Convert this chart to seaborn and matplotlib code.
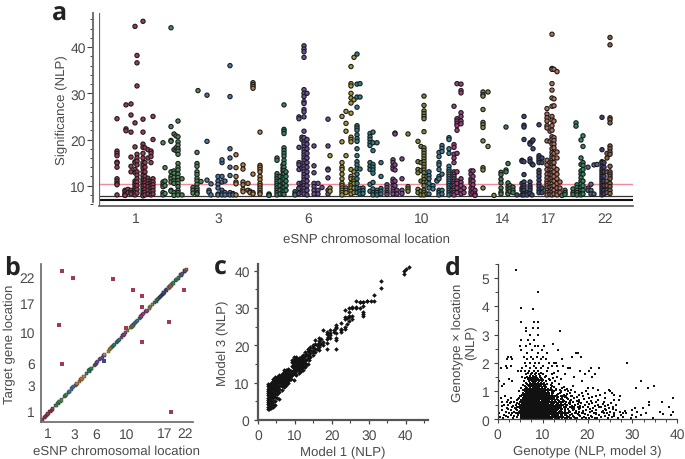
import matplotlib
matplotlib.use("Agg")
import matplotlib.pyplot as plt
import seaborn as sns
import pandas as pd
from matplotlib.ticker import MultipleLocator

sns.set_theme(style="ticks")
plt.rcParams['font.family'] = ['Liberation Sans', 'DejaVu Sans']
plt.rcParams['text.hinting'] = 'no_hinting'
TEXT = '#4a4a4a'
W, H = 685, 460

# -------------------------
# panel a: genome position -> NLP values, one block per chromosome colour
# -------------------------
chr1 = [(18, [24.5, 17.5, 17, 16.5, 15.1, 14.9, 14, 11.5, 11, 10.5, 10.2, 8]),
        (26, [9, 8.7, 8.2, 8, 7.9]),
        (27, [27.5, 22.3, 21.9]),
        (29, [9.2, 8.5]),
        (32, [27.7, 25.3, 21.6, 16.2, 14.2, 13, 9, 8.5, 8.2]),
        (36, [44.5, 23.6, 18.4, 15.2, 15, 13.5, 12.8, 11, 10.5, 10, 9.5, 9, 8.5, 8]),
        (38, [38.2, 36.6, 31.6, 16.8, 16, 15.3, 14.5, 13, 12.3, 11.5, 10.8, 10, 9.2, 8.4]),
        (44, [45.6, 24.4, 21.6, 19, 18.3, 17, 16, 15, 14.4, 13.8, 13, 12.2, 11.5, 11, 10.5, 10, 9.5, 9, 8.5, 8, 7.8]),
        (46, [18.2, 15, 14, 13, 12, 11.2, 10.6, 10, 9.2, 8.6, 8]),
        (49, [17.8, 16, 11.6, 11, 10.4, 9.8, 9, 8.2]),
        (52, [17.5, 17, 16.3, 15, 11, 10.5, 10, 9.5, 8.8, 8]),
        (54, [25, 20, 11.5, 10.8, 10.2, 9.6, 8.9, 8.2])]
chr2 = [(64, [19.3, 10.8, 10.2, 9.8, 8.5, 8]),
        (66, [13.9, 11, 10, 8.3]),
        (72, [44.2, 22.8, 19.8, 19.6, 13, 12, 11.5, 10.8, 9, 8.8]),
        (75, [21.2, 17.8, 13.2, 12.7, 11.8, 11, 10.5, 8.5, 7.9]),
        (77, [20.8, 18.2, 17.6]),
        (79, [24, 20.6, 19.5, 18.8, 18, 17.5, 16.8, 14.8, 14, 13.4, 12.5, 11.8, 11.1, 10.5, 9.8, 9, 8.5, 8]),
        (83, [11.5, 8]),
        (94, [9.6, 9, 8.4]),
        (98, [17.2, 14.8, 14.2, 13, 12.4, 11.6, 11, 10.3, 9.5, 9, 8.5, 8.2]),
        (99, [30.6]),
        (102, [10.9])]
chr3 = [(108, [29.6, 19.6, 11.2]),
        (110, [9, 8.6]),
        (112, [10.4, 8]),
        (119, [12, 11, 10.3, 9.5, 8.2, 8]),
        (123, [15, 15.6, 12, 10.8, 9, 8.4, 8]),
        (126, [11, 8.5, 8]),
        (131, [36, 29.3, 18, 16, 14, 12.2, 8.5, 8]),
        (134, [8.3, 8])]
chr4 = [(137, [16.7, 13.9, 12, 10.8, 10.4, 8]),
        (144, [14.5, 13.6, 10.8, 10.2, 9.2, 8.7]),
        (149, [10.5, 9]),
        (151, [8.8, 8.5]),
        (154, [32.3, 31.9, 31.5, 31.1, 12.5, 8.5, 8.2]),
        (161, [21.6, 14.4, 14, 13.5, 13, 12, 11.3, 10.5, 10, 9.5, 9, 8.5, 8.2])]
chr5 = [(170, [8.2, 8, 7.9]),
        (178, [16, 15.5, 12.6, 12, 11.5, 11, 10.5, 10, 9.5, 9, 8.5, 8]),
        (181, [12, 11, 10, 9, 8.2]),
        (184, [14.5, 13.8, 13.2, 12.5, 11.8, 11, 10.4, 9.7, 9, 8.3]),
        (185, [27.5, 22.2, 21.8, 21.3, 18.2, 17.6, 17, 16.4, 15.5, 14.8, 14, 13.3, 12.6, 11.5, 10.5, 9.6, 8.8, 8.1]),
        (187, [13, 12, 11, 10, 9]),
        (196, [8.7, 8.2, 8])]
chr6 = [(200, [24.9, 24.5, 18.3, 15, 14.5, 13.5, 10.5, 9.5, 9.4, 8.3]),
        (203, [20.5, 20, 13.8, 10.6, 9.7, 8.5]),
        (205, [40.3, 39.6, 39, 37.8, 30.8, 30, 29.3, 28.2, 27.8, 26.5, 26, 24.9, 21.8, 20.4, 19.5, 19, 18.4, 17.8,
               17.2, 16.6, 16, 15.4, 14.8, 14.2, 13.6, 13, 12.4, 11.8, 11.2, 10.6, 10, 9.4, 8.8, 8.2]),
        (208, [30, 20, 19, 18, 17, 16, 15, 14, 13, 12, 11, 10, 9, 8]),
        (215, [18.6, 14.3, 12.8, 10.5, 9.8, 9, 8.2]),
        (219, [10.5, 9, 8.2]),
        (223, [9.6]),
        (229, [24.4, 18.6, 13.6, 13.4, 11.7, 9, 8.2])]
chr7 = [(231, [16.5, 9.5, 8.8]),
        (243, [25, 19.5, 15, 14, 13.5, 12.5, 11.5, 10.5, 10, 9.5, 9, 8.5, 8]),
        (247, [26.1, 23.5, 21.8, 16.5, 9.5, 9, 8.5]),
        (252, [35.8, 32.1, 31.6, 30, 29, 27.9, 25.7, 20.5, 20, 19.5, 13.5, 12, 11.5, 10.5, 10, 9.5, 8.8, 8.2]),
        (255, [37.8, 28.6, 13, 11.5, 11, 10.5, 9.5, 8.5])]
chr8 = [(258, [38.5, 32, 29.2, 27, 23, 22.5, 22, 21, 20.2, 19.6, 18, 16.5, 15.2, 14.5, 13.7, 12.5, 11.5, 10.5, 9.5, 8.5]),
        (261, [32.1, 29.2, 13.6, 9.4, 8.8, 8.2]),
        (264, [9.5, 8.9, 8.3]),
        (271, [21.3, 20.6, 20, 19.3, 18.7, 15, 14.2, 13.5, 10.3, 8.8]),
        (274, [21.6, 19.3, 17.6, 14.6, 14, 13.4, 12.7, 10.7, 9.3, 8.5, 8]),
        (278, [19.3, 9, 8.5, 8]),
        (282, [15, 12, 9.4, 8.8, 8.2])]
chr9 = [(288, [10.2, 9.6, 9, 8.5, 8.1]),
        (294, [15.6, 15, 14.2, 13.6, 11.4, 10.8, 10, 9.3, 8.7, 8.2]),
        (296, [21.4, 21.2, 14.5, 13.4, 11, 10]),
        (298, [9, 8.2]),
        (303, [15.8, 11.5, 9, 8.3])]
chr10 = [(309, [21.2, 9.8, 9.3, 8.8]),
         (319, [19.6, 15.2, 13.5, 12.8, 9.2, 8.5]),
         (322, [18.5, 15, 13.3, 11, 8.8, 8]),
         (325, [29.4, 27.4, 26.2, 25.6, 25, 24.5, 21.7, 18.2, 17.6, 17, 16.4, 15.8, 15.2, 14.6, 14, 13.4, 12.8, 12,
                11.3, 10.7, 10, 9, 8.5, 8]),
         (328, [12, 10.8, 8.2])]
chr11 = [(330, [13, 12.2, 11.5, 10.5, 9.5, 8.2]),
         (334, [10, 9.3]),
         (338, [11.2, 11]),
         (340, [17.2, 16.3, 15, 14.5, 13.5, 12, 11.5, 9, 8.5, 8]),
         (343, [18.7, 18.1, 17.4, 12.5, 9, 8.2]),
         (350, [20.4, 20, 18, 17, 14.2, 13.5, 13, 12.5, 12, 11.5, 11, 10.5, 10, 9.5, 9, 8.5, 8]),
         (353, [10, 9, 8.2])]
chr12 = [(355, [27.2, 18.9, 18.3, 16.8, 16, 15, 13, 12.5, 12, 11.5, 11, 10.5, 10, 9.5, 9, 8.5, 8]),
         (358, [32.1, 24.5, 24, 23.5, 23, 22, 17, 13, 11, 10.5, 9.5, 8.5]),
         (362, [32, 30.6, 30.1, 25.8, 25, 24, 23.4, 11.5, 10.7, 10, 9, 8.2]),
         (365, [9.5, 8.5]),
         (372, [13.2, 12.5, 11.5, 11, 10.5, 9.5, 8.7, 8.2]),
         (374, [13.2, 12, 11, 10.2, 9.3, 8.5]),
         (376, [9, 8.2, 7.9])]
chr13 = [(384, [30.3, 29.7, 29.4, 26.5, 23.7, 23.2, 22.6, 19.7, 13.9, 13.4, 9.5]),
         (389, [30.3, 18.5]),
         (395, [7.9])]
chr14 = [(402, [12.9, 12.4, 11.4, 10.6, 9.5, 8.6, 8.2]),
         (407, [22.7, 13.4, 13]),
         (409, [14.8, 10.6, 9.8, 9.2, 8.5, 8.2]),
         (411, [10, 9.4, 8.8]),
         (414, [9.7, 9, 8.5])]
chr15 = [(418, [8]),
         (423, [15.5, 15.3, 10.5, 9.5, 9, 8]),
         (425, [25, 23.1, 22.7, 20, 15.2, 12.4, 10.8, 10, 9.5, 9, 8.3, 8]),
         (428, [8.5, 8]),
         (431, [19.3, 19, 15.8, 15.2, 10.8, 10, 9.5, 9, 8.3]),
         (433, [19.6, 14.7, 8]),
         (434, [19.9, 18, 14.5]),
         (440, [23.2, 16.5, 16, 15.5, 15, 13.3, 12.7, 12, 11.2, 10.4, 9.8, 9.1, 8.5]),
         (443, [16, 15, 9.5, 8.5])]
chr17 = [(448, [26.7, 25.5, 24.7, 24, 23, 22.5, 19.7, 15.5, 14.5, 13.5, 12.5, 11.7, 11, 10.5, 10, 9.5, 9, 8.5, 8]),
         (451, [21.8, 19.6, 15, 13.5, 12.5, 11.5, 10.5, 9.7, 8.8, 8.1]),
         (453, [42.8, 35.4, 35.2, 32.1, 30.7, 29, 27.2, 25, 24.2, 23, 22, 20.6, 20, 19, 18, 17.2, 16.5, 16, 15.5, 15,
                14.5, 14, 13.4, 12.8, 12.2, 11.6, 11, 10.4, 9.8, 9.2, 8.6, 8]),
         (455, [35.2, 28.8, 27.3, 24, 20.4, 19.8, 19, 18.2, 17, 16, 15, 14, 13, 12, 11, 10, 9, 8.2]),
         (458, [34.7, 17.3, 16, 13.5, 12.5, 11.5, 10.5, 9.5, 8.5, 8]),
         (461, [10.8, 9.5, 8.5])]
chr18 = [(463, [7.9]),
         (466, [9, 8.5, 8.1]),
         (474, [9.3, 8.5, 8.1]),
         (477, [23.6, 22.9]),
         (478, [10.2, 9.6, 9, 8.5, 8]),
         (482, [19.9, 16, 14.6, 13.2, 12.5, 11.7, 11, 10.4, 9.6, 9, 8.3, 8]),
         (484, [20.8, 18.5, 15, 14.4, 13.5, 12.5, 11, 10, 9, 8.2])]
chr20 = [(489, [14, 9.5, 9]),
         (492, [10.3, 9, 8.2]),
         (495, [14.5, 8.2]),
         (498, [14.6])]
chr21 = [(503, [24.8, 17.8, 15.2, 15, 14.2, 13.5, 13, 12.5, 12, 11.5, 11, 10.5, 10, 9.5, 9, 8.5, 8]),
         (505, [15, 14, 13, 12, 11, 10, 9, 8.2])]
chr22 = [(508, [17, 16, 13, 11, 10, 9, 8.5]),
         (511, [42.1, 40.5, 24.7, 24.3, 23.6, 18.6, 18, 17.3, 16.8, 14.2, 13, 12.5, 12, 11.5, 10.5, 9.8, 9, 8.3])]

chrom_blocks = {'1': chr1, '2': chr2, '3': chr3, '4': chr4, '5': chr5, '6': chr6, '7': chr7, '8': chr8,
                '9': chr9, '10': chr10, '11': chr11, '12': chr12, '13': chr13, '14': chr14, '15': chr15,
                '17': chr17, '18': chr18, '20': chr20, '21': chr21, '22': chr22}
chrom_colors = {'1': '#a03a55', '2': '#4f8a58', '3': '#4a78a8', '4': '#bd8042', '5': '#2f8a62', '6': '#6d4f9e',
                '7': '#a89a38', '8': '#2f8088', '9': '#84478f', '10': '#7d8a38', '11': '#3a80a0', '12': '#a23f82',
                '13': '#7f8a48', '14': '#3f8058', '15': '#3a4a80', '17': '#b8705a', '18': '#2f8a62',
                '20': '#5a6488', '21': '#4a3a80', '22': '#8a6040'}
a_tick_pos = [37, 119, 209, 323, 404, 450, 506]
a_tick_labels = ['1', '3', '6', '10', '14', '17', '22']
sig_line = 10.4
cut_line = 7.8
base_line = 6.9

# -------------------------
# panel b: same eSNP positions on the diagonal, plus the off diagonal pairs
# -------------------------
b_out_x = [85, 77, 85, 124, 259, 329, 360, 360, 304, 360, 450, 501, 457]
b_out_y = [506, 330, 200, 483, 480, 443, 422, 387, 317, 272, 337, 443, 45]
b_navy_x = [229]
b_navy_y = [212]
b_x_ticks = [37, 127, 203, 307, 436, 506]
b_y_ticks = [47, 132, 205, 306, 402, 487]
b_labels = ['1', '3', '6', '10', '17', '22']

# -------------------------
# panel c: model 1 NLP -> model 3 NLP
# -------------------------
c_columns = [(2.7, [3, 3.6, 4.2, 4.8, 5.4, 6, 6.6, 7.2, 7.8, 8.4, 9, 9.6]),
             (3.1, [3, 3.5, 4, 4.5, 5, 5.5, 6, 6.5, 7, 7.5, 8, 8.5, 9, 9.5]),
             (3.5, [3.2, 4, 4.6, 5.2, 5.8, 6.4, 7, 7.6, 8.2, 8.8, 9.4, 10]),
             (4, [3.5, 4.2, 5, 5.8, 6.5, 7.2, 8, 8.6, 9.2, 9.8, 10.4, 11]),
             (4.6, [4, 5.2, 6.2, 7, 7.8, 8.4, 9, 9.6, 10.2, 10.8, 11.5]),
             (5.2, [6, 7, 7.8, 8.5, 9.2, 9.8, 10.4, 11, 11.6]),
             (5.8, [5.5, 7.5, 8.4, 9.2, 9.8, 10.4, 11, 11.6, 12]),
             (6.4, [8, 9, 9.8, 10.5, 11.2, 11.8, 12.4]),
             (7, [8.8, 9.6, 10.4, 11, 11.6, 12.2, 12.8, 13.4]),
             (7.6, [9.5, 10.4, 11, 11.6, 12.2, 12.8, 13.5]),
             (8.2, [10, 10.8, 11.4, 12, 12.6, 13.2, 13.7]),
             (8.8, [11, 11.8, 12.4, 13]),
             (9.2, [12, 12.8, 14.5, 15.5, 16.2]),
             (9.8, [10.8, 12.5, 13.5, 14, 14.8, 15.5, 16, 16.8]),
             (10.4, [12, 13.2, 14, 14.6, 15.2, 15.8, 16.4, 17]),
             (11, [12.5, 13.4, 14.2, 14.8, 15.4, 16, 16.5]),
             (11.6, [13, 14, 15, 15.6, 16.2, 17]),
             (12.2, [13.5, 14.3, 15, 15.8, 16.5, 17.5]),
             (12.8, [14.2, 15.2, 16.2, 17.2, 18.2]),
             (13.4, [15, 16.5, 17.5, 18.5, 19]),
             (14, [17, 18, 18.8, 19.5]),
             (14.8, [17.5, 18.6, 19.2, 20]),
             (15.5, [18.2, 19, 20.4, 21.5]),
             (16.5, [18.7, 19.5, 20, 20.6, 21.3, 22]),
             (17.5, [20, 21, 24.2]),
             (18.6, [19, 20.5, 21.6, 23, 23.6]),
             (19.6, [22, 22.8, 23.3, 24]),
             (21, [19, 21.5, 22, 23.2, 24.6, 25, 25.5]),
             (22.5, [23.5, 24, 24.5, 26]),
             (23.5, [24.5, 25, 27, 27.5, 29.5]),
             (24.5, [26.5, 27.5, 28, 29, 30]),
             (25.5, [27, 27.8, 30, 30.4]),
             (26.5, [30, 30.2, 32]),
             (27.5, [30, 31.5, 31.7]),
             (28.5, [28, 28.5, 29, 30.5, 31.5, 31.7]),
             (29.5, [31.8, 32]),
             (30.5, [32]),
             (31.3, [31.8, 33.5]),
             (33.2, [35.4, 37.2]),
             (39.5, [39, 40]),
             (40, [40.5]),
             (40.8, [41])]

# -------------------------
# panel d: rows of genotype NLP at a given genotype x location NLP
# -------------------------
d_rows = [(0.03, [1.2, 3.4, 5.7, 6.1, 6.5, 6.9, 7.3, 7.8, 8.2, 8.6, 9.1, 9.5, 9.9, 10.4, 10.9, 11.4, 12, 12.7, 13.5, 14.3, 15.4, 16.4, 17.6, 18.8, 20.4, 22.2, 24.5, 26.8, 29.6, 34.6]),
          (0.09, [0.6, 2.2, 4.2, 5.1, 5.5, 5.9, 6.3, 6.7, 7.1, 7.6, 8, 8.4, 8.9, 9.3, 9.7, 10.2, 10.7, 11.2, 11.7, 12.3, 13, 13.8, 14.6, 15.9, 17, 19.3, 21, 23, 25.4, 28, 30.8]),
          (0.15, [1.4, 3, 4.6, 5.4, 5.8, 6.2, 6.6, 7, 7.4, 7.9, 8.3, 8.7, 9.2, 9.6, 10, 10.5, 11, 11.5, 12, 12.6, 13.3, 14, 15, 16.2, 18, 20, 22.6, 24.7, 27.5, 30, 32, 38.6]),
          (0.21, [0.4, 2.6, 4, 5, 5.5, 5.9, 6.3, 6.8, 7.2, 7.6, 8.1, 8.5, 8.9, 9.4, 9.8, 10.2, 10.7, 11.2, 11.8, 12.4, 13.1, 13.9, 14.7, 15.6, 17.2, 19, 21.4, 23.6, 26, 28.6, 33]),
          (0.27, [1.8, 3.6, 4.8, 5.3, 5.7, 6.1, 6.5, 6.9, 7.4, 7.8, 8.2, 8.7, 9.1, 9.5, 10, 10.4, 10.9, 11.4, 12, 12.7, 13.6, 14.4, 16, 18.2, 20.6, 23.2, 25, 27.2, 31, 36.2, 39]),
          (0.33, [0.9, 2.9, 4.4, 5.2, 5.6, 6, 6.4, 6.8, 7.3, 7.7, 8.1, 8.6, 9, 9.4, 9.9, 10.3, 10.8, 11.3, 11.9, 12.5, 13.2, 14.1, 15.1, 16.8, 19.6, 22, 24.1, 26.3, 29.8]),
          (0.39, [2.1, 3.8, 5, 5.5, 5.9, 6.3, 6.7, 7.1, 7.6, 8, 8.4, 8.9, 9.3, 9.7, 10.2, 10.6, 11.1, 11.7, 12.3, 13, 13.8, 15, 16.5, 18.4, 21.2, 24.8, 30.6, 32.4]),
          (0.45, [3.2, 4.7, 5.4, 5.8, 6.2, 6.6, 7, 7.5, 7.9, 8.3, 8.8, 9.2, 9.6, 10.1, 10.5, 11, 11.6, 12.2, 13, 13.7, 14.8, 16.2, 17.8, 20, 23, 25.6, 38.2]),
          (0.51, [1.5, 2.4, 4.1, 5.2, 5.7, 6.1, 6.5, 7, 7.4, 7.8, 8.3, 8.7, 9.1, 9.6, 10, 10.5, 11, 11.5, 12.1, 12.9, 13.6, 14.5, 15.5, 17.2, 19.4, 22.3, 24.6, 26.4, 33.8]),
          (0.57, [2.8, 4.4, 5.5, 5.9, 6.3, 6.8, 7.2, 7.6, 8.1, 8.5, 8.9, 9.4, 9.8, 10.3, 10.8, 11.3, 11.9, 12.6, 13.4, 14.2, 15.8, 18.6, 21, 25.2]),
          (0.63, [0.9, 2, 3.6, 4.9, 5.7, 6.1, 6.5, 6.9, 7.4, 7.8, 8.2, 8.7, 9.1, 9.5, 10, 10.5, 11, 11.6, 12.3, 13, 14, 15.2, 16.8, 19.8, 23.6, 36.6, 33.6]),
          (0.69, [2.4, 4.2, 5.3, 5.9, 6.3, 6.7, 7.1, 7.6, 8, 8.5, 8.9, 9.3, 9.8, 10.2, 10.7, 11.3, 12, 12.8, 13.5, 14.6, 16.4, 18.2, 22.4, 25.8, 27]),
          (0.75, [0.8, 3, 4.8, 5.6, 6.2, 6.6, 7, 7.4, 7.9, 8.3, 8.7, 9.2, 9.6, 10.1, 10.6, 11.2, 11.8, 12.5, 13.3, 14.4, 15.4, 17, 20.4, 24, 39]),
          (0.81, [1.6, 5, 5.9, 6.4, 6.9, 7.3, 7.7, 8.2, 8.6, 9, 9.5, 9.9, 10.4, 11, 11.6, 12.2, 13, 14, 15.2, 16.4, 19, 21.8, 27.3]),
          (0.87, [5.4, 6.2, 6.7, 7.2, 7.6, 8, 8.5, 8.9, 9.4, 9.8, 10.3, 10.9, 11.4, 12.1, 13.2, 14.8, 18, 22.8, 26]),
          (0.93, [5.7, 6.5, 7, 7.4, 7.9, 8.3, 8.8, 9.2, 9.7, 10.2, 10.8, 11.5, 12.4, 13.8, 16, 18.7, 23.8, 25.4]),
          (0.99, [4.8, 6, 6.8, 7.2, 7.7, 8.1, 8.6, 9, 9.5, 10, 10.6, 11.3, 12.6, 14.2, 15.6, 19.6, 25]),
          (1.05, [6.3, 7, 7.5, 7.9, 8.4, 8.9, 9.4, 10, 10.7, 11.6, 13, 15, 22.4, 24.8]),
          (1.11, [5.2, 6.6, 7.3, 7.8, 8.2, 8.7, 9.2, 9.8, 10.5, 11.8, 14.4, 20.2, 21.2, 30.9, 33.5]),
          (1.18, [1, 6.1, 7, 7.5, 8, 8.5, 9, 9.6, 10.3, 12.2, 16.8, 34.8]),
          (1.26, [6.5, 7.2, 7.7, 8.3, 8.8, 9.3, 10, 11, 13.6, 1.4]),
          (1.34, [0.3, 3.2, 5.8, 7, 7.6, 8.1, 8.6, 9.2, 9.9, 10.8, 12.8, 18.8, 32]),
          (1.42, [6.8, 7.4, 8, 8.5, 9, 9.8, 11.4, 14.2, 2.6]),
          (1.5, [5.4, 6.5, 7.3, 7.9, 8.4, 9.5, 10.6, 13.2, 17, 21]),
          (1.6, [6.2, 7.5, 8.2, 9.2, 10.2, 12, 15, 19.5, 21.6]),
          (1.7, [4.6, 5.2, 6, 7, 8, 9, 11, 13.4, 18.4, 20.4]),
          (1.8, [0.8, 2.1, 5.4, 7.2, 8.6, 9.6, 11.2, 15.6, 16.2, 20.8, 22.5]),
          (1.9, [1.8, 3, 6.4, 8, 10, 12, 13.2, 14.6]),
          (2, [6, 7.3, 8.4, 9.2, 11.5, 12.6, 13, 28.8]),
          (2.12, [2, 3.2, 6.6, 7.8, 9.6, 10.8, 14.4]),
          (2.22, [2.2, 3, 5.8, 7.4, 8.8, 10, 16.6, 18.6]),
          (2.34, [6.6, 9, 11, 17.4, 17.8]),
          (2.45, [5.2, 7.6, 9.8, 13.5]),
          (2.58, [5, 6.4, 8.4, 8.9, 10.4]),
          (2.68, [7.2, 12.4]),
          (2.82, [5.1, 6.7, 8]),
          (3, [7.2, 9]),
          (3.12, [6.3, 13.8]),
          (3.25, [6.3, 7.9, 9]),
          (3.44, [5.1, 8, 8.9]),
          (3.9, [7.9]),
          (3.95, [5.1]),
          (4.5, [9]),
          (5.3, [4.1])]

# second pass through the dense part, between the rows above
d_rows_dense = [(0.06, [5.3, 5.6, 6, 6.4, 6.8, 7.2, 7.5, 8.1, 8.5, 8.8, 9.2, 9.6, 10, 10.5, 11, 11.6, 12.2, 12.9, 13.7, 15, 16, 17.3, 19.7, 21.6]),
                (0.12, [1.9, 3.6, 5.2, 5.7, 6.1, 6.5, 6.9, 7.3, 7.7, 8.2, 8.6, 9, 9.5, 9.9, 10.3, 10.8, 11.4, 12.1, 12.8, 13.5, 14.3, 15.5, 16.7, 18.4, 20.7, 24, 26]),
                (0.18, [5.2, 5.6, 6, 6.4, 6.8, 7.3, 7.7, 8, 8.5, 8.9, 9.3, 9.7, 10.1, 10.6, 11.1, 11.6, 12.2, 12.9, 13.5, 14.4, 15.3, 16.6, 17.8, 19.5, 22, 25.8, 36.8]),
                (0.24, [3.2, 4.5, 5.3, 5.7, 6.1, 6.5, 7, 7.3, 7.8, 8.3, 8.7, 9, 9.5, 9.9, 10.3, 10.9, 11.5, 12.1, 12.7, 13.4, 14.2, 15.2, 17.5, 18.8, 21.8, 24.4, 27.8]),
                (0.3, [5, 5.4, 5.9, 6.3, 6.7, 7.1, 7.5, 8, 8.4, 8.8, 9.3, 9.7, 10.1, 10.6, 11.1, 11.7, 12.3, 13, 13.8, 15, 15.8, 17.4, 19.1, 20.9, 23.5, 28.3]),
                (0.36, [2.4, 4, 5.3, 5.8, 6.2, 6.6, 7, 7.5, 7.9, 8.3, 8.7, 9.1, 9.6, 10, 10.5, 11, 11.5, 12.1, 12.8, 13.4, 14.4, 15.6, 17, 18, 20.5, 23.8, 25.7]),
                (0.42, [4.4, 5.2, 5.7, 6.1, 6.5, 6.9, 7.3, 7.8, 8.2, 8.6, 9, 9.5, 9.9, 10.4, 10.9, 11.4, 12, 12.6, 13.4, 14.2, 15.3, 16.9, 18.9, 22.5]),
                (0.48, [1, 3.5, 5, 5.6, 6, 6.4, 6.8, 7.2, 7.7, 8.1, 8.5, 9, 9.4, 9.8, 10.3, 10.8, 11.3, 11.9, 12.5, 13.3, 14.1, 15.2, 16.6, 18.4, 21.6, 24]),
                (0.54, [4.7, 5.4, 5.8, 6.2, 6.7, 7.1, 7.5, 7.9, 8.4, 8.8, 9.3, 9.7, 10.2, 10.7, 11.2, 11.8, 12.4, 13.2, 14, 14.9, 16.1, 17.8, 20.4, 23.4]),
                (0.6, [3, 5.1, 5.6, 6, 6.4, 6.9, 7.3, 7.7, 8.2, 8.6, 9, 9.5, 9.9, 10.4, 10.9, 11.5, 12.1, 12.9, 13.7, 14.6, 16.2, 18, 22]),
                (0.66, [5.4, 5.9, 6.3, 6.7, 7.2, 7.6, 8, 8.4, 8.8, 9.3, 9.8, 10.3, 10.8, 11.4, 12.1, 12.8, 13.6, 14.8, 16, 17.7, 20.8]),
                (0.72, [4.6, 5.6, 6.1, 6.5, 6.9, 7.3, 7.8, 8.2, 8.6, 9.1, 9.5, 10, 10.5, 11, 11.6, 12.3, 13.2, 14.2, 15.6, 19.2]),
                (0.78, [5.8, 6.3, 6.7, 7.1, 7.5, 8, 8.4, 8.9, 9.3, 9.8, 10.3, 10.9, 11.5, 12.4, 13.5, 15, 17.6, 21]),
                (0.84, [5.1, 6.1, 6.6, 7, 7.4, 7.9, 8.3, 8.7, 9.2, 9.7, 10.2, 10.7, 11.3, 12.6, 14.5, 16.5]),
                (0.9, [5.9, 6.4, 6.9, 7.3, 7.7, 8.2, 8.6, 9.1, 9.5, 10, 10.5, 11.2, 12, 13.4, 15.4, 20]),
                (0.96, [6.2, 6.6, 7.1, 7.5, 8, 8.4, 8.9, 9.4, 9.9, 10.4, 11.2, 12.2, 14, 17.2]),
                (1.02, [5.6, 6.6, 7.3, 7.7, 8.2, 8.7, 9.2, 9.7, 10.3, 11, 12, 13.8, 16.4]),
                (1.08, [6.1, 6.9, 7.6, 8.1, 8.6, 9.1, 9.6, 10.2, 11.2, 13, 15.4]),
                (1.15, [6.4, 7.2, 7.8, 8.3, 8.8, 9.3, 9.9, 10.8, 12.6, 14.8]),
                (1.22, [5.7, 6.8, 7.4, 7.9, 8.5, 9.1, 9.6, 10.5, 11.8]),
                (1.3, [6.2, 7.1, 7.8, 8.4, 9, 9.7, 10.4, 12.2]),
                (1.38, [7.3, 7.8, 8.3, 8.8, 9.4, 10.2, 11.6]),
                (1.46, [6, 7, 7.7, 8.2, 8.8, 9.6, 12.4]),
                (1.55, [7.2, 7.9, 8.6, 9.4, 10.8]),
                (1.65, [6.7, 7.7, 8.5, 9.6, 12.6])]

c_extra = [(9.5, [13, 14.2, 15.2]), (10.1, [12.4, 14.3, 16.5]), (10.7, [13.6, 15, 16.2]), (11.3, [13.2, 14.6, 15.8]),
           (12, [14.6, 15.6, 16.8]), (13, [14.8, 16, 17.8]), (13.8, [16, 17.2, 18.4]), (15, [18.2, 19.6]),
           (16, [19, 20.2]), (17, [20.4, 21.8]), (19, [22.2, 23]), (20.5, [23.6, 24.2]), (24, [25.6, 27.2]),
           (6.1, [9.4, 10.1, 10.8, 11.5]), (6.7, [9.4, 10.2, 11, 12]), (7.3, [9.2, 10.1, 11.3, 12.6]),
           (7.9, [9.8, 10.7, 11.7, 12.9]), (8.5, [10.6, 11.4, 12.2, 13.3])]


def pixel_axes(left, top, right, bottom):
    return fig.add_axes([left / W, 1 - bottom / H, (right - left) / W, (bottom - top) / H])


def long_table(columns, xname, yname):
    rows = [(x, y) for x, ys in columns for y in ys]
    return pd.DataFrame(rows, columns=[xname, yname])


fig = plt.figure(figsize=(W / 100, H / 100), dpi=100)

# panel a
df_a = pd.concat([long_table(cols, 'pos', 'nlp').assign(chrom=name) for name, cols in chrom_blocks.items()])
ax_a = pixel_axes(99, 14, 633, 207)
sns.scatterplot(data=df_a, x='pos', y='nlp', hue='chrom', palette=chrom_colors, s=9.5,
                edgecolor='#1c1c1c', linewidth=0.8, legend=False, ax=ax_a, clip_on=False, zorder=3)
ax_a.set_xlim(0, 534)
ax_a.set_ylim(5.6, 47.4)
ax_a.axhline(sig_line, color='#f08a9a', lw=1, zorder=2)
ax_a.axhline(cut_line, color='#333333', lw=0.9, zorder=2)
ax_a.axhline(base_line, color='#111111', lw=1.5, zorder=2)
ax_a.axvline(0, color='#666666', lw=1.6, zorder=2)
sns.despine(ax=ax_a)
ax_a.spines['bottom'].set_color('#555555')
ax_a.spines['bottom'].set_linewidth(1.2)
ax_a.spines['left'].set_position(('outward', 4.5))
ax_a.spines['left'].set_color('#666666')
ax_a.spines['left'].set_linewidth(1.3)
ax_a.spines['left'].set_bounds(6.4, 47.4)
ax_a.set_xticks(a_tick_pos, a_tick_labels)
ax_a.tick_params(axis='x', length=0, pad=4, labelsize=10, labelcolor=TEXT)
ax_a.yaxis.set_major_locator(MultipleLocator(10))
ax_a.yaxis.set_minor_locator(MultipleLocator(2))
ax_a.tick_params(axis='y', which='major', length=4.5, width=0.8, color='#444444', pad=0.5, labelsize=10, labelcolor=TEXT)
ax_a.tick_params(axis='y', which='minor', length=2.5, width=0.7, color='#444444')
ax_a.set_xlabel('eSNP chromosomal location', fontsize=9.5, color=TEXT, labelpad=6)
ax_a.set_ylabel('Significance (NLP)', fontsize=9.5, color=TEXT, labelpad=1.5)

# panel b
df_b = df_a.drop_duplicates(['pos', 'chrom'])
df_out = pd.DataFrame({'x': b_out_x, 'y': b_out_y})
df_navy = pd.DataFrame({'x': b_navy_x, 'y': b_navy_y})
ax_b = pixel_axes(40.7, 265, 193, 422.7)
sns.scatterplot(data=df_b, x='pos', y='pos', hue='chrom', palette=chrom_colors, marker='s', s=5,
                edgecolor='#222222', linewidth=0.25, legend=False, ax=ax_b)
sns.scatterplot(data=df_out, x='x', y='y', color='#a03a55', marker='s', s=5, linewidth=0, ax=ax_b)
sns.scatterplot(data=df_navy, x='x', y='y', color='#3a4a80', marker='s', s=5, linewidth=0, ax=ax_b)
ax_b.set_xlim(13, 533)
ax_b.set_ylim(12, 528)
sns.despine(ax=ax_b)
for side in ['left', 'bottom']:
    ax_b.spines[side].set_color('#666666')
    ax_b.spines[side].set_linewidth(1.2)
ax_b.set_xticks(b_x_ticks, b_labels)
ax_b.set_yticks(b_y_ticks, b_labels)
ax_b.tick_params(axis='both', length=0, pad=4, labelsize=10, labelcolor=TEXT)
ax_b.set_xlabel('eSNP chromosomal location', fontsize=9.5, color=TEXT, labelpad=3)
ax_b.set_ylabel('Target gene location', fontsize=9.5, color=TEXT, labelpad=3)

# panel c
df_c = long_table(c_columns + c_extra, 'model1', 'model3')
ax_c = pixel_axes(258, 265, 428, 421)
sns.scatterplot(data=df_c, x='model1', y='model3', color='#141414', marker='D', s=5.5, linewidth=0, ax=ax_c)
ax_c.set_xlim(0, 46)
ax_c.set_ylim(0, 41.8)
sns.despine(ax=ax_c)
for side in ['left', 'bottom']:
    ax_c.spines[side].set_color('#555555')
    ax_c.spines[side].set_linewidth(1.6)
ax_c.xaxis.set_major_locator(MultipleLocator(10))
ax_c.xaxis.set_minor_locator(MultipleLocator(5))
ax_c.yaxis.set_major_locator(MultipleLocator(10))
ax_c.yaxis.set_minor_locator(MultipleLocator(5))
ax_c.tick_params(axis='both', which='major', length=3, width=0.9, color='#444444', pad=3, labelsize=10, labelcolor=TEXT)
ax_c.tick_params(axis='both', which='minor', length=2, width=0.8, color='#444444')
ax_c.set_xlabel('Model 1 (NLP)', fontsize=9.5, color=TEXT, labelpad=3)
ax_c.set_ylabel('Model 3 (NLP)', fontsize=9.5, color=TEXT, labelpad=4)

# panel d
df_d = pd.DataFrame([(x, y) for y, xs in d_rows + d_rows_dense for x in xs], columns=['geno', 'inter'])
ax_d = pixel_axes(497.7, 265, 677.3, 420.3)
sns.scatterplot(data=df_d, x='geno', y='inter', color='#111111', marker='s', s=2.6, linewidth=0, ax=ax_d, clip_on=False)
ax_d.set_xlim(0, 40)
ax_d.set_ylim(0, 5.5)
sns.despine(ax=ax_d)
for side in ['left', 'bottom']:
    ax_d.spines[side].set_color('#444444')
    ax_d.spines[side].set_linewidth(0.9)
ax_d.xaxis.set_major_locator(MultipleLocator(10))
ax_d.xaxis.set_minor_locator(MultipleLocator(2.5))
ax_d.yaxis.set_major_locator(MultipleLocator(1))
ax_d.yaxis.set_minor_locator(MultipleLocator(0.5))
ax_d.tick_params(axis='both', which='major', length=3, width=0.8, color='#444444', pad=3, labelsize=10, labelcolor=TEXT)
ax_d.tick_params(axis='both', which='minor', length=2, width=0.7, color='#444444')
ax_d.set_xlabel('Genotype (NLP, model 3)', fontsize=9.5, color=TEXT, labelpad=3)
ax_d.set_ylabel('Genotype × location\n(NLP)', fontsize=9.5, color=TEXT, labelpad=3, linespacing=1.15)

# panel letters
for letter, lx, ly in [('a', 52, 14), ('b', 4, 268), ('c', 214, 268), ('d', 445, 268)]:
    fig.text(lx / W, 1 - ly / H, letter, fontsize=18, fontweight='bold', color='#222222',
             family=['Open Sans', 'DejaVu Sans'], va='center', ha='left')

fig.savefig('out.png', dpi=100)
